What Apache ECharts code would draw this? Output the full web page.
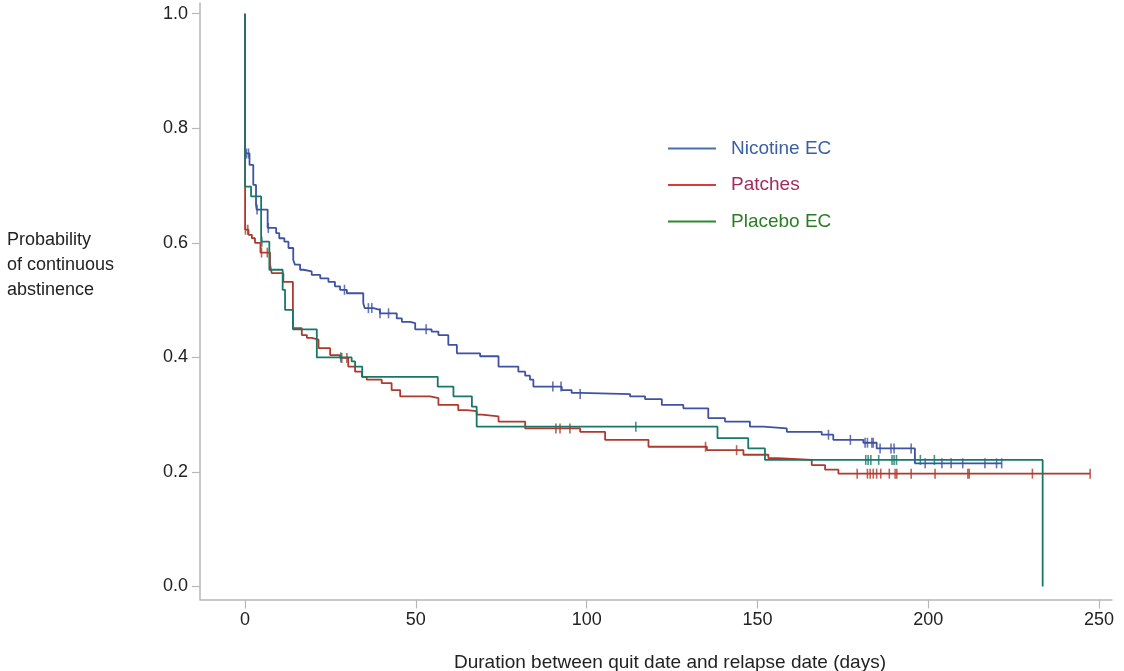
<!DOCTYPE html>
<html lang="en">
<head>
    <meta charset="UTF-8">
    <title>Kaplan-Meier: continuous abstinence</title>
    <script src="https://cdn.jsdelivr.net/npm/echarts@6/dist/echarts.min.js"></script>
    <style>
        html, body { margin: 0; padding: 0; background: #fff; }
    </style>
</head>
<body>
    <div id="km-chart" style="width: 1124px; height: 671px;"></div>

    <script>
        // Step points of each survival curve (day, probability)
        var nicotineDays = [0, 0, 1.3, 2.4, 3.2, 3.4, 6.6, 9.1, 10.0, 11.5, 12.7, 14.1, 14.6, 16.1, 17.1, 19.5, 22.0, 24.4, 26.3, 27.8, 29.8, 34.6, 35.0, 37.6, 39.5, 44.4, 45.9, 48.3, 49.8, 54.6, 56.6, 59.5, 62.0, 68.8, 74.2, 80.0, 82.0, 83.4, 84.4, 92.7, 95.6, 98.1, 112.7, 117.1, 122.0, 128.3, 135.6, 140.5, 147.8, 151.7, 158.6, 168.8, 172.2, 181.0, 184.9, 196.1, 221.5];
        var nicotineSurv = [1.0, 0.756, 0.736, 0.701, 0.666, 0.658, 0.626, 0.617, 0.608, 0.602, 0.591, 0.570, 0.562, 0.553, 0.550, 0.544, 0.538, 0.532, 0.524, 0.518, 0.512, 0.495, 0.486, 0.483, 0.477, 0.468, 0.462, 0.460, 0.449, 0.445, 0.439, 0.422, 0.407, 0.402, 0.384, 0.375, 0.368, 0.361, 0.349, 0.343, 0.338, 0.336, 0.332, 0.327, 0.317, 0.311, 0.294, 0.288, 0.279, 0.276, 0.270, 0.265, 0.256, 0.251, 0.241, 0.215, 0.215];
        var nicotineCensored = [0, 0.4, 1.0, 3.5, 6.8, 29.1, 36.1, 37.1, 39.5, 42.0, 53.0, 90.1, 92.5, 98.1, 170.8, 177.2, 181.5, 182.2, 183.5, 183.9, 185.9, 189.1, 190.0, 195.0, 199.1, 204.0, 206.7, 210.1, 216.6, 220.0, 221.5];

        var patchesDays = [0, 0, 1.0, 2.0, 2.9, 4.5, 7.3, 7.8, 11.2, 14.0, 16.6, 18.1, 19.5, 21.5, 24.9, 27.8, 30.2, 32.2, 34.2, 35.6, 40.0, 42.9, 45.4, 54.2, 56.6, 62.4, 64.9, 67.8, 69.3, 74.2, 82.0, 98.1, 105.4, 118.1, 135.2, 145.9, 153.2, 156.1, 165.9, 169.8, 173.7, 247.4];
        var patchesSurv = [1.0, 0.623, 0.614, 0.608, 0.600, 0.583, 0.562, 0.547, 0.532, 0.451, 0.439, 0.434, 0.431, 0.416, 0.404, 0.399, 0.384, 0.375, 0.366, 0.361, 0.355, 0.343, 0.332, 0.329, 0.317, 0.308, 0.306, 0.300, 0.297, 0.288, 0.276, 0.270, 0.256, 0.244, 0.238, 0.230, 0.224, 0.221, 0.212, 0.204, 0.197, 0.197];
        var patchesCensored = [0.1, 0.8, 4.8, 6.5, 28.3, 29.8, 91.0, 92.2, 95.1, 134.8, 143.9, 179.2, 182.2, 183.0, 183.9, 184.9, 186.1, 188.6, 190.3, 190.8, 195.0, 202.0, 211.6, 212.0, 230.5, 247.4];

        var placeboDays = [0, 0, 1.75, 4.7, 7.1, 11.0, 11.7, 14.0, 21.0, 31.2, 32.2, 34.3, 56.4, 61.0, 66.4, 67.8, 138.3, 147.3, 152.2, 233.5];
        var placeboSurv = [1.0, 0.698, 0.681, 0.602, 0.553, 0.518, 0.483, 0.449, 0.400, 0.393, 0.384, 0.366, 0.349, 0.332, 0.314, 0.279, 0.259, 0.241, 0.221, 0];
        var placeboCensored = [4.9, 28.0, 114.4, 181.7, 182.4, 183.2, 185.5, 189.4, 190.0, 190.7, 197.7, 201.8];

        var xTicks = [0, 50, 100, 150, 200, 250];
        var yTicks = [0, 0.2, 0.4, 0.6, 0.8, 1.0];

        var groupNames = ['Nicotine EC', 'Patches', 'Placebo EC'];
        var lineColors = ['#3f51a3', '#b0392d', '#17786a'];
        var legendLineColors = ['#4a6fa8', '#d63c3c', '#2b8a2e'];
        var legendTextColors = ['#3b5fa2', '#a42a5e', '#2a7d24'];

        var font = "'Liberation Sans', Arial, sans-serif";

        function pairs(days, surv) {
            return days.map(function (d, i) { return [d, surv[i]]; });
        }

        // censor ticks sit on the curve: take the step value in force at that day
        function onCurve(days, surv, censored) {
            return censored.map(function (t) {
                var v = surv[0];
                for (var i = 0; i < days.length; i++) {
                    if (days[i] <= t) v = surv[i];
                }
                return [t, v];
            });
        }

        var curves = [
            [nicotineDays, nicotineSurv, nicotineCensored],
            [patchesDays, patchesSurv, patchesCensored],
            [placeboDays, placeboSurv, placeboCensored]
        ];

        var series = [];
        curves.forEach(function (c, i) {
            series.push({
                name: groupNames[i],
                type: 'line',
                step: 'end',
                symbol: 'none',
                animation: false,
                lineStyle: { color: lineColors[i], width: 1.8 },
                itemStyle: { color: lineColors[i] },
                data: pairs(c[0], c[1]),
                z: 2 + i
            });
            series.push({
                name: groupNames[i],
                type: 'scatter',
                symbol: 'rect',
                symbolSize: [1.6, 10],
                animation: false,
                itemStyle: { color: lineColors[i] },
                data: onCurve(c[0], c[1], c[2]),
                z: 2 + i
            });
        });

        var chart = echarts.init(document.getElementById('km-chart'));

        chart.setOption({
            backgroundColor: '#ffffff',
            animation: false,
            grid: { left: 200, right: 12, top: 3, bottom: 71.5, outerBoundsMode: 'none' },
            legend: {
                orient: 'vertical',
                left: 668,
                top: 139,
                padding: 0,
                icon: 'rect',
                itemWidth: 48,
                itemHeight: 2,
                itemGap: 17.5,
                textStyle: { fontFamily: font, fontSize: 19, padding: [0, 0, 0, 10] },
                data: groupNames.map(function (n, i) {
                    return {
                        name: n,
                        itemStyle: { color: legendLineColors[i] },
                        textStyle: { color: legendTextColors[i] }
                    };
                })
            },
            xAxis: {
                type: 'value',
                min: -13.2,
                max: 253.8,
                name: 'Duration between quit date and relapse date (days)',
                nameLocation: 'middle',
                nameGap: 54,
                nameTextStyle: { fontFamily: font, fontSize: 19, color: '#222', padding: [0, 0, 0, 28] },
                axisLine: { onZero: false, lineStyle: { color: '#b4b8bc', width: 1.5 } },
                axisTick: { customValues: xTicks, length: 9, lineStyle: { color: '#b4b8bc', width: 1.2 } },
                axisLabel: { customValues: xTicks, margin: 12, fontFamily: font, fontSize: 18, color: '#222' },
                splitLine: { show: false }
            },
            yAxis: {
                type: 'value',
                min: -0.0227,
                max: 1.0187,
                axisLine: { show: true, onZero: false, lineStyle: { color: '#b4b8bc', width: 1.5 } },
                axisTick: { show: true, customValues: yTicks, length: 8, lineStyle: { color: '#b4b8bc', width: 1.2 } },
                axisLabel: {
                    customValues: yTicks,
                    margin: 12,
                    fontFamily: font,
                    fontSize: 18,
                    color: '#222',
                    formatter: function (v) { return v.toFixed(1); }
                },
                splitLine: { show: false }
            },
            graphic: [{
                type: 'text',
                left: 7,
                top: 228,
                style: {
                    text: 'Probability\nof continuous\nabstinence',
                    font: '18px ' + font,
                    lineHeight: 25,
                    fill: '#222'
                }
            }],
            series: series
        });
    </script>
</body>
</html>
